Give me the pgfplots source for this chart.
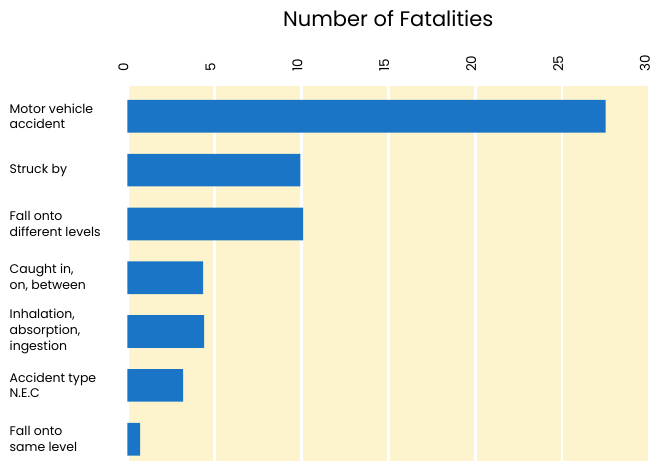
\documentclass[border=0pt]{standalone}
\usepackage{pgfplots}
\pgfplotsset{compat=1.18}
\usepackage{fontspec}
\setmainfont{Poppins}
\definecolor{barblue}{RGB}{27,117,199}
\definecolor{bgyellow}{RGB}{253,244,205}

\begin{document}
\begin{tikzpicture}
\begin{axis}[
    name=ax,
    xbar,
    scale only axis,
    width=521.5pt,
    height=375pt,
    xmin=0, xmax=30,
    ymin=-0.563, ymax=6.405,
    y dir=reverse,
    bar width=32.7pt,
    axis background/.style={fill=bgyellow},
    axis line style={draw=none},
    major tick length=0pt,
    xtick={0,5,...,30},
    xticklabel pos=upper,
    xmajorgrids,
    grid style={white, line width=2.7pt},
    /pgf/number format/assume math mode=true,
    xticklabel style={rotate=90, anchor=west, inner sep=0pt, yshift=4pt,
        font=\fontsize{13.5}{15}\selectfont},
    xticklabel shift=14pt,
    ytick={0,...,6},
    yticklabels={
        {Motor vehicle\\accident},
        {Struck by},
        {Fall onto\\different levels},
        {Caught in,\\on, between},
        {Inhalation,\\absorption,\\ingestion},
        {Accident type\\N.E.C},
        {Fall onto\\same level}},
    yticklabel style={anchor=west, align=left, inner sep=0pt, xshift=-118pt,
        font=\fontsize{12.5}{15.7}\selectfont},
    title={Number of Fatalities},
    title style={at={(0.5,1)}, anchor=base, yshift=53.3pt, inner sep=0pt,
        font=\fontsize{21}{25}\selectfont},
]
\addplot[fill=barblue, draw=none] coordinates {
    (27.5,0) (9.95,1) (10.1,2) (4.35,3) (4.41,4) (3.2,5) (0.72,6)
};
\end{axis}
\pgfresetboundingbox
\path (ax.south west) ++(-127.5pt,0pt) rectangle ++(651pt,461pt);
\end{tikzpicture}
\end{document}
